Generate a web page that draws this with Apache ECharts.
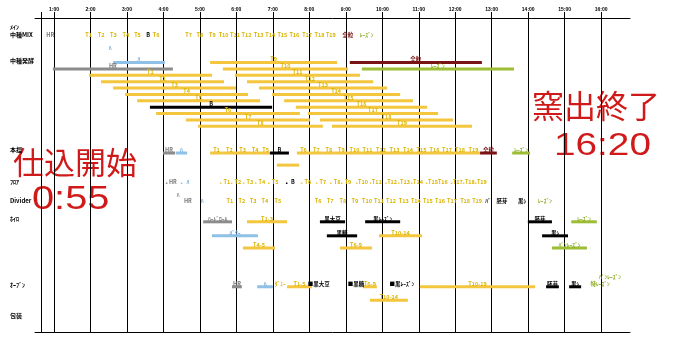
<!DOCTYPE html>
<html>
<head>
<meta charset="utf-8">
<script src="https://cdn.jsdelivr.net/npm/echarts@6/dist/echarts.min.js"></script>
<style>
  html, body { margin: 0; padding: 0; background: #fff; }
  #chart { width: 688px; height: 353px; }
</style>
</head>
<body>
<div id="chart"></div>
<script>
// ---- data (hours of the day, lanes counted from the top) ----
const hourTicks = [0.65, 1, 2, 3, 4, 5, 6, 7, 8, 9, 10, 11, 12, 13, 14, 15, 16];
const hourLabels = [1, 2, 3, 4, 5, 6, 7, 8, 9, 10, 11, 12, 13, 14, 15, 16];

const rowNames = ['ﾒｲﾝ', '中種MIX', '中種発酵', '本捏', 'ﾌﾛｱ', 'Divider', 'ﾎｲﾛ', 'ｵｰﾌﾞﾝ', '包装'];
const rowLanes = [1.4, 2.7, 6.65, 20.75, 25.75, 28.7, 31.55, 41.8, 46.8];

// bars: [label, start, end, lane, kind]
const fermentBars = [
  ['ﾊ', 2.62, 4.04, 7, 'b'], ['HR', 0.97, 4.26, 8, 'g'],
  ['T1', 1.96, 5.33, 9, 'y'], ['T2', 2.29, 5.66, 10, 'y'], ['T3', 2.62, 5.99, 11, 'y'],
  ['T4', 2.95, 6.32, 12, 'y'], ['T5', 3.28, 6.65, 13, 'y'], ['B', 3.63, 6.98, 14, 'k'],
  ['T6', 3.80, 7.74, 15, 'y'], ['T7', 4.62, 8.02, 16, 'y'], ['T8', 4.95, 8.37, 17, 'y'],
  ['T9', 5.28, 8.76, 7, 'y'], ['T10', 5.63, 9.06, 8, 'y'], ['T11', 5.96, 9.39, 9, 'y'],
  ['T12', 6.29, 9.75, 10, 'y'], ['T13', 6.62, 10.13, 11, 'y'], ['T14', 6.98, 10.49, 12, 'y'],
  ['T15', 7.31, 10.84, 13, 'y'], ['T16', 7.63, 11.23, 14, 'y'], ['T17', 7.96, 11.53, 15, 'y'],
  ['T18', 8.29, 11.94, 16, 'y'], ['T19', 8.62, 12.46, 17, 'y'],
  ['全粒', 9.11, 12.73, 7, 'r'], ['ﾚｰｽﾞﾝ', 9.44, 13.61, 8, 'o']
];
const kneadBars = [
  ['HR', 3.99, 4.32, 21.2, 'g'], ['ﾊ', 4.34, 4.65, 21.2, 'b'],
  ['T1', 5.28, 5.63, 21.2, 'y'], ['T2', 5.63, 5.99, 21.2, 'y'], ['T3', 5.99, 6.35, 21.2, 'y'],
  ['T4', 6.35, 6.68, 21.2, 'y'], ['T5', 6.68, 6.92, 21.2, 'y'], ['B', 6.92, 7.44, 21.2, 'k'],
  ['T6', 7.66, 8.02, 21.2, 'y'], ['T7', 8.02, 8.37, 21.2, 'y'], ['T8', 8.37, 8.70, 21.2, 'y'],
  ['T9', 8.70, 9.06, 21.2, 'y'], ['T10', 9.06, 9.42, 21.2, 'y'], ['T11', 9.42, 9.77, 21.2, 'y'],
  ['T12', 9.77, 10.16, 21.2, 'y'], ['T13', 10.16, 10.51, 21.2, 'y'], ['T14', 10.51, 10.90, 21.2, 'y'],
  ['T15', 10.90, 11.25, 21.2, 'y'], ['T16', 11.25, 11.61, 21.2, 'y'], ['T17', 11.61, 11.94, 21.2, 'y'],
  ['T18', 11.94, 12.32, 21.2, 'y'], ['T19', 12.32, 12.68, 21.2, 'y'],
  ['全粒', 12.68, 13.14, 21.2, 'r'], ['ﾚｰｽﾞﾝ', 13.56, 14.05, 21.2, 'o'],
  ['', 7.11, 7.72, 23.1, 'y']
];
const proofBars = [
  ['ﾊｰﾄﾞﾛｰﾙ', 5.09, 5.88, 32, 'g'], ['T1-3', 6.29, 7.39, 32, 'y'],
  ['黒大豆', 8.29, 8.98, 32, 'k'], ['黒ﾚｰｽﾞﾝ', 9.53, 10.49, 32, 'k'],
  ['胚芽', 13.99, 14.65, 32, 'k'], ['ﾚｰｽﾞﾝ', 15.18, 15.88, 32, 'o'],
  ['ﾊﾞﾀｰ', 5.33, 6.59, 34.2, 'b'], ['黒糖', 8.48, 9.31, 34.2, 'k'],
  ['T10-14', 9.91, 11.09, 34.2, 'y'], ['黒ｼ', 14.38, 15.09, 34.2, 'k'],
  ['T4-5', 6.18, 7.06, 36.1, 'y'], ['T6-9', 8.84, 9.72, 36.1, 'y'],
  ['ﾊﾟﾝﾚｰｽﾞﾝ', 14.65, 15.61, 36.1, 'o']
];
const ovenBars = [
  ['HR', 5.88, 6.15, 42.2, 'g'], ['ﾊ', 6.57, 7.00, 42.2, 'b'],
  ['T1-5', 7.39, 8.07, 42.2, 'y'], ['T6-9', 9.47, 9.85, 42.2, 'y'],
  ['T10-19', 11.03, 14.19, 42.2, 'y'], ['胚芽', 14.49, 14.84, 42.2, 'k'],
  ['黒ｼ', 15.12, 15.45, 42.2, 'k'], ['T10-14', 9.66, 10.70, 44.3, 'y']
];

// text marks: [label, time, lane, kind]
const mixTags = [
  ['HR', 0.90, 2.7, 'g'], ['T1', 1.95, 2.7, 'y'], ['T2', 2.29, 2.7, 'y'], ['T3', 2.63, 2.7, 'y'],
  ['T4', 2.97, 2.7, 'y'], ['T5', 3.29, 2.7, 'y'], ['B', 3.58, 2.7, 'k'], ['T6', 3.80, 2.7, 'y'],
  ['T7', 4.69, 2.7, 'y'], ['T8', 5.00, 2.7, 'y'], ['T9', 5.34, 2.7, 'y'], ['T10', 5.65, 2.7, 'y'],
  ['T11', 5.96, 2.7, 'y'], ['T12', 6.28, 2.7, 'y'], ['T13', 6.61, 2.7, 'y'], ['T14', 6.93, 2.7, 'y'],
  ['T15', 7.26, 2.7, 'y'], ['T16', 7.59, 2.7, 'y'], ['T17', 7.94, 2.7, 'y'], ['T18', 8.28, 2.7, 'y'],
  ['T19', 8.59, 2.7, 'y'], ['全粒', 9.05, 2.7, 'r'], ['ﾚｰｽﾞﾝ', 9.57, 2.7, 'o'],
  ['ﾊ', 2.54, 4.7, 'b']
];
const floorTags = [
  ['HR', 4.26, 25.75, 'g'], ['ﾊ', 4.67, 25.75, 'b'],
  ['T1', 5.74, 25.75, 'y'], ['T2', 6.04, 25.75, 'y'], ['T3', 6.37, 25.75, 'y'], ['T4', 6.70, 25.75, 'y'],
  ['T5', 7.06, 25.75, 'y'], ['B', 7.55, 25.75, 'k'], ['T6', 7.96, 25.75, 'y'], ['T7', 8.37, 25.75, 'y'],
  ['T8', 8.76, 25.75, 'y'], ['T9', 9.06, 25.75, 'y'], ['T10', 9.47, 25.75, 'y'], ['T11', 9.85, 25.75, 'y'],
  ['T12', 10.27, 25.75, 'y'], ['T13', 10.62, 25.75, 'y'], ['T14', 10.98, 25.75, 'y'], ['T15', 11.39, 25.75, 'y'],
  ['T16', 11.66, 25.75, 'y'], ['T17', 12.07, 25.75, 'y'], ['T18', 12.40, 25.75, 'y'], ['T19', 12.73, 25.75, 'y']
];
const dividerTags = [
  ['ﾊ', 4.40, 27.7, 'g'], ['HR', 4.67, 28.7, 'g'], ['ﾊ', 5.06, 28.7, 'b'],
  ['T1', 5.82, 28.7, 'y'], ['T2', 6.15, 28.7, 'y'], ['T3', 6.46, 28.7, 'y'], ['T4', 6.78, 28.7, 'y'],
  ['T5', 7.14, 28.7, 'y'], ['T6', 8.24, 28.7, 'y'], ['T7', 8.57, 28.7, 'y'], ['T8', 8.92, 28.7, 'y'],
  ['T9', 9.25, 28.7, 'y'], ['T10', 9.58, 28.7, 'y'], ['T11', 9.91, 28.7, 'y'], ['T12', 10.24, 28.7, 'y'],
  ['T13', 10.59, 28.7, 'y'], ['T14', 10.92, 28.7, 'y'], ['T15', 11.25, 28.7, 'y'], ['T16', 11.58, 28.7, 'y'],
  ['T17', 11.91, 28.7, 'y'], ['T18', 12.27, 28.7, 'y'], ['T19', 12.60, 28.7, 'y'],
  ['ﾊﾞ', 12.90, 28.7, 'k'], ['胚芽', 13.28, 28.7, 'k'], ['黒ｼ', 13.83, 28.7, 'k'], ['ﾚｰｽﾞﾝ', 14.46, 28.7, 'o']
];
const ovenTags = [
  ['ﾀﾞﾐｰ', 7.20, 41.8, 'y'], ['■黒大豆', 8.26, 41.8, 'k'], ['■黒糖', 9.28, 41.8, 'k'],
  ['■黒ﾚｰｽﾞﾝ', 10.54, 41.8, 'k'], ['特ﾚｰｽﾞﾝ', 15.97, 41.8, 'o'], ['ﾊﾟﾝﾚｰｽﾞﾝ', 16.24, 40.6, 'o']
];

// ---- style ----
const BAR_COLOR = { y: '#f3c63e', g: '#8c8c8c', b: '#8fc0e6', k: '#000', r: '#7a1414', o: '#9dbd34' };
const TXT_COLOR = { y: '#dcb400', g: '#7a7a7a', b: '#5f9fd6', k: '#000', r: '#7a1414', o: '#8aab1e' };
const SMALL = 'bold 5.5px "Noto Sans CJK JP", sans-serif';
const RED = '#d01a1a';

const allBars = fermentBars.concat(kneadBars, proofBars, ovenBars);
const allTags = mixTags.concat(dividerTags, ovenTags);

const chart = echarts.init(document.getElementById('chart'), null, { renderer: 'canvas' });

chart.setOption({
  animation: false,
  grid: { left: 35, right: 58, top: 18, bottom: 21 },
  xAxis: [{
    type: 'value', position: 'top', min: 0.48, max: 16.79,
    axisLine: { show: true, lineStyle: { color: '#000', width: 1 } },
    axisTick: { show: true, length: 6, customValues: hourTicks, lineStyle: { color: '#000' } },
    axisLabel: {
      customValues: hourLabels, formatter: v => v + ':00', margin: 6,
      fontSize: 5, fontWeight: 'bold', color: '#000', fontFamily: 'Liberation Sans'
    },
    splitLine: { show: true, lineStyle: { color: '#000', width: 1 } }
  }, {
    type: 'value', position: 'bottom', min: 0.48, max: 16.79,
    axisLine: { show: true, lineStyle: { color: '#000', width: 1 } },
    axisTick: { show: false }, axisLabel: { show: false }, splitLine: { show: false }
  }],
  yAxis: {
    type: 'value', inverse: true, min: 0, max: 49.3,
    axisLine: { show: false }, axisTick: { show: false }, splitLine: { show: false },
    axisLabel: {
      customValues: rowLanes, align: 'left', margin: 25,
      formatter: v => rowNames[rowLanes.indexOf(v)],
      fontSize: 6, fontWeight: 'bold', color: '#000', fontFamily: 'Noto Sans CJK JP'
    }
  },
  series: [
    {
      // bar bodies
      type: 'custom', silent: true, z: 2,
      data: allBars.map(b => [b[1], b[2], b[3]]),
      encode: { x: [0, 1], y: 2 },
      renderItem: function (params, api) {
        const b = allBars[params.dataIndex];
        const p0 = api.coord([api.value(0), api.value(2)]);
        const p1 = api.coord([api.value(1), api.value(2)]);
        return {
          type: 'rect',
          shape: { x: p0[0], y: p0[1] - 1.5, width: p1[0] - p0[0], height: 3 },
          style: { fill: BAR_COLOR[b[4]] }
        };
      }
    },
    {
      // bar labels on top
      type: 'custom', silent: true, z: 3,
      data: allBars.map(b => [b[1], b[2], b[3]]),
      encode: { x: [0, 1], y: 2 },
      renderItem: function (params, api) {
        const b = allBars[params.dataIndex];
        if (!b[0]) return;
        const p0 = api.coord([api.value(0), api.value(2)]);
        const p1 = api.coord([api.value(1), api.value(2)]);
        return {
          type: 'text',
          style: {
            text: b[0], x: (p0[0] + p1[0]) / 2, y: p0[1] - 0.5,
            align: 'center', verticalAlign: 'bottom', fill: TXT_COLOR[b[4]], font: SMALL
          }
        };
      }
    },
    {
      // loose text marks
      type: 'custom', silent: true, z: 3,
      data: allTags.map(t => [t[1], t[2]]),
      encode: { x: 0, y: 1 },
      renderItem: function (params, api) {
        const t = allTags[params.dataIndex];
        const p = api.coord([api.value(0), api.value(1)]);
        return {
          type: 'text',
          style: { text: t[0], x: p[0], y: p[1], align: 'center', verticalAlign: 'middle', fill: TXT_COLOR[t[3]], font: SMALL }
        };
      }
    },
    {
      // floor marks: small dot + label
      type: 'custom', silent: true, z: 3,
      data: floorTags.map(t => [t[1], t[2]]),
      encode: { x: 0, y: 1 },
      renderItem: function (params, api) {
        const t = floorTags[params.dataIndex];
        const p = api.coord([api.value(0), api.value(1)]);
        return {
          type: 'group',
          children: [
            { type: 'rect', shape: { x: p[0] - 7, y: p[1] + 0.5, width: 1.5, height: 1.5 }, style: { fill: BAR_COLOR[t[3]] } },
            { type: 'text', style: { text: t[0], x: p[0], y: p[1], align: 'center', verticalAlign: 'middle', fill: TXT_COLOR[t[3]], font: SMALL } }
          ]
        };
      }
    }
  ],
  graphic: [
    { type: 'text', x: 13, y: 162, style: { text: '仕込開始', font: '31px "Noto Sans CJK JP"', fill: RED, verticalAlign: 'middle' } },
    { type: 'text', x: 32, y: 200, scaleX: 1.17, style: { text: '0:55', font: '34px "Liberation Sans"', fill: RED, verticalAlign: 'middle' } },
    { type: 'text', x: 532, y: 106, style: { text: '窯出終了', font: '32px "Noto Sans CJK JP"', fill: RED, verticalAlign: 'middle' } },
    { type: 'text', x: 554, y: 146, scaleX: 1.25, style: { text: '16:20', font: '31px "Liberation Sans"', fill: RED, verticalAlign: 'middle' } }
  ]
});
</script>
</body>
</html>
